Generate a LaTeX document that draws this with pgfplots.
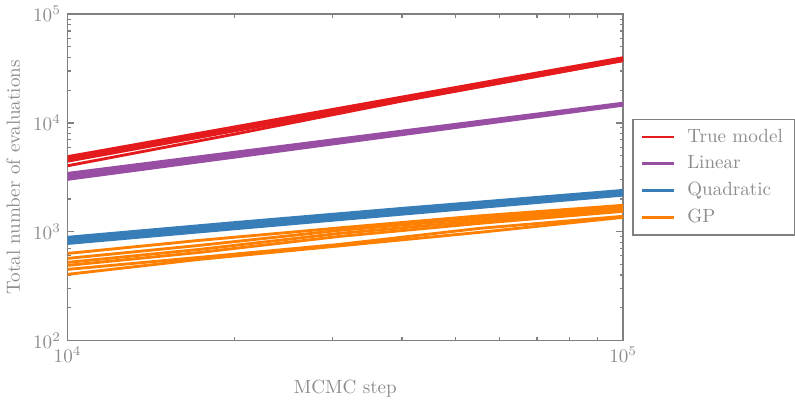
\documentclass[border=0pt]{standalone}
\usepackage{pgfplots}
\pgfplotsset{compat=1.18}
\definecolor{cred}{HTML}{E41A1C}
\definecolor{cpurple}{HTML}{984EA3}
\definecolor{cblue}{HTML}{377EB8}
\definecolor{corange}{HTML}{FF7F00}
\definecolor{axgray}{RGB}{128,128,128}
\definecolor{txtgray}{RGB}{140,140,140}
\begin{document}
\begin{tikzpicture}
\begin{axis}[
  scale only axis,
  width=291pt, height=171pt,
  xmode=log, ymode=log,
  xmin=1e4, xmax=1e5, ymin=1e2, ymax=1e5,
  xtick={1e4,1e5},
  minor xtick={2e4,3e4,4e4,5e4,6e4,7e4,8e4,9e4},
  axis line style={axgray, line width=0.8pt},
  every tick/.style={axgray, line width=0.6pt},
  major tick length=3.5pt, minor tick length=1.8pt,
  tick label style={text=txtgray},
  label style={text=txtgray},
  xlabel={MCMC step},
  ylabel={Total number of evaluations},
  xlabel style={yshift=-2pt},
  legend style={draw=axgray, line width=0.8pt, text=txtgray, at={(1.016,0.5)}, anchor=west, row sep=1.6pt, column sep=4pt, inner xsep=4pt, inner ysep=3pt},
  legend cell align=left,
  every axis plot/.append style={line width=1.5pt},
]
% True model
\addplot[cred] coordinates {(1e4,4900) (2e4,9200) (4e4,17300) (7e4,28800) (1e5,39800)};
\addlegendentry{True model}
\addplot[cred, forget plot] coordinates {(1e4,4700) (2e4,8870) (4e4,16750) (7e4,28000) (1e5,38800)};
\addplot[cred, forget plot] coordinates {(1e4,4450) (2e4,8460) (4e4,16040) (7e4,26900) (1e5,37500)};
\addplot[cred, forget plot] coordinates {(1e4,4040) (2e4,7900) (4e4,15900) (7e4,26800) (1e5,37400)};
% Linear
\addplot[cpurple] coordinates {(1e4,3440) (2e4,5380) (4e4,8420) (7e4,12080) (1e5,15200)};
\addlegendentry{Linear}
\addplot[cpurple, forget plot] coordinates {(1e4,3300) (2e4,5200) (4e4,8200) (7e4,11850) (1e5,15000)};
\addplot[cpurple, forget plot] coordinates {(1e4,3150) (2e4,5020) (4e4,8000) (7e4,11640) (1e5,14800)};
\addplot[cpurple, forget plot] coordinates {(1e4,3030) (2e4,4850) (4e4,7800) (7e4,11400) (1e5,14550)};
% Quadratic
\addplot[cblue] coordinates {(1e4,890) (2e4,1215) (4e4,1640) (7e4,2070) (1e5,2400)};
\addlegendentry{Quadratic}
\addplot[cblue, forget plot] coordinates {(1e4,860) (2e4,1170) (4e4,1590) (7e4,2010) (1e5,2340)};
\addplot[cblue, forget plot] coordinates {(1e4,830) (2e4,1130) (4e4,1540) (7e4,1955) (1e5,2280)};
\addplot[cblue, forget plot] coordinates {(1e4,800) (2e4,1095) (4e4,1490) (7e4,1900) (1e5,2220)};
\addplot[cblue, forget plot] coordinates {(1e4,780) (2e4,1065) (4e4,1450) (7e4,1855) (1e5,2170)};
% GP
\addplot[corange] coordinates {(1e4,632) (1.73e4,834) (3.09e4,1086) (5.52e4,1400) (1e5,1750)};
\addlegendentry{GP}
\addplot[corange, forget plot] coordinates {(1e4,569) (1.73e4,750) (3.09e4,1031) (5.52e4,1328) (1e5,1676)};
\addplot[corange, forget plot] coordinates {(1e4,523) (1.73e4,689) (3.09e4,967) (5.52e4,1259) (1e5,1607)};
\addplot[corange, forget plot] coordinates {(1e4,491) (1.73e4,646) (3.09e4,907) (5.52e4,1195) (1e5,1542)};
\addplot[corange, forget plot] coordinates {(1e4,451) (1.73e4,582) (3.09e4,766) (5.52e4,1075) (1e5,1387)};
\addplot[corange, forget plot] coordinates {(1e4,406) (1.73e4,558) (3.09e4,742) (5.52e4,988) (1e5,1357)};
\end{axis}
\end{tikzpicture}
\end{document}
